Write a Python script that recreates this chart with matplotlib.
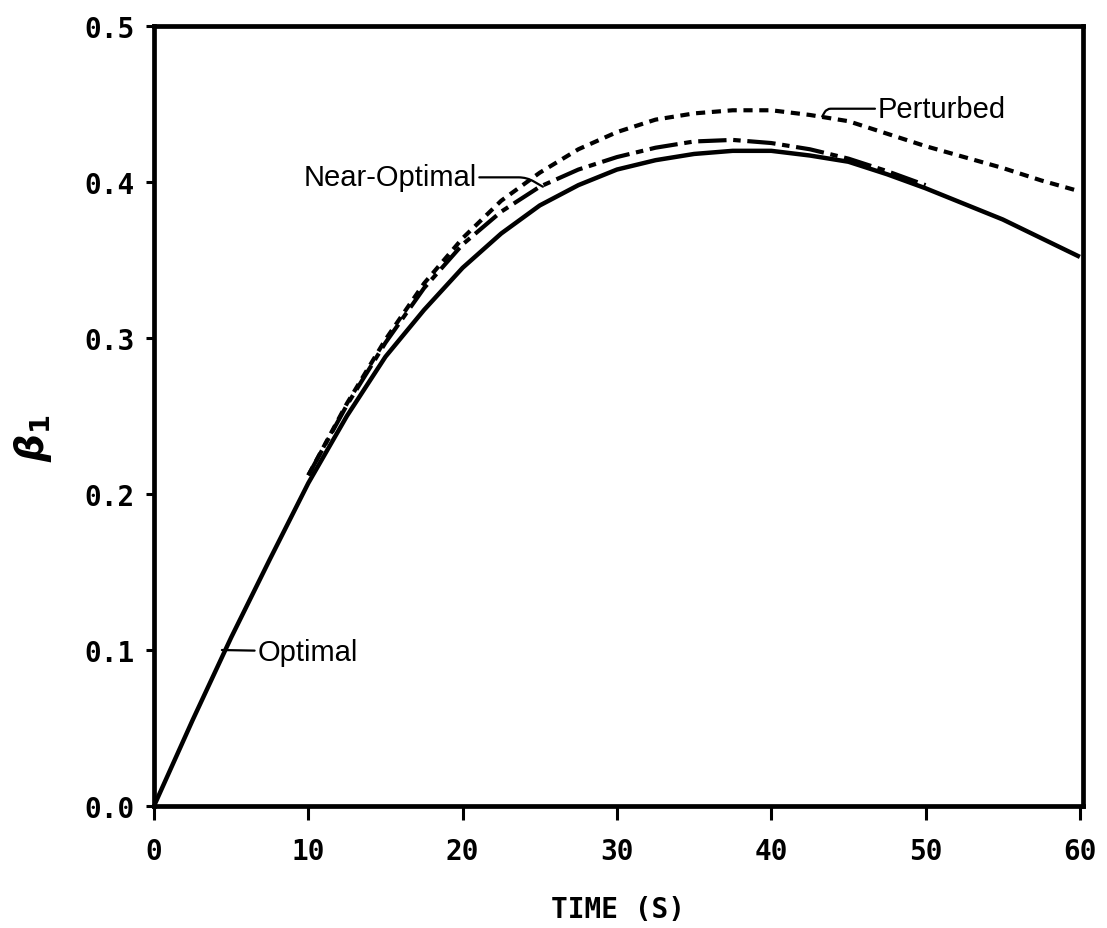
import matplotlib
matplotlib.use("Agg")
from matplotlib import pyplot as plt

plt.rcParams["mathtext.fontset"] = "custom"
plt.rcParams["mathtext.rm"] = "DejaVu Sans:bold"
plt.rcParams["mathtext.it"] = "DejaVu Sans:bold:italic"
plt.rcParams["mathtext.bf"] = "DejaVu Sans:bold"

# time (s) and beta_1
t = [0, 2.5, 5, 7.5, 10, 12.5, 15, 17.5, 20, 22.5, 25, 27.5, 30, 32.5, 35,
     37.5, 40, 42.5, 45, 47.5, 50, 52.5, 55, 57.5, 60]
optimal = [0, 0.055, 0.108, 0.158, 0.207, 0.25, 0.288, 0.318, 0.345, 0.367,
           0.385, 0.398, 0.408, 0.414, 0.418, 0.42, 0.42, 0.417, 0.413,
           0.405, 0.396, 0.386, 0.376, 0.364, 0.352]

t_near = [10, 12.5, 15, 17.5, 20, 22.5, 25, 27.5, 30, 32.5, 35, 37.5, 40,
          42.5, 45, 47.5, 50]
near_optimal = [0.212, 0.257, 0.297, 0.332, 0.36, 0.381, 0.397, 0.408, 0.416,
                0.422, 0.426, 0.427, 0.425, 0.421, 0.415, 0.407, 0.398]

t_pert = [10, 12.5, 15, 17.5, 20, 22.5, 25, 27.5, 30, 32.5, 35, 37.5, 40,
          42.5, 45, 47.5, 50, 52.5, 55, 57.5, 60]
perturbed = [0.212, 0.258, 0.299, 0.335, 0.364, 0.388, 0.406, 0.421, 0.432,
             0.44, 0.444, 0.446, 0.446, 0.443, 0.439, 0.431, 0.423, 0.416,
             0.409, 0.401, 0.394]

xticks = [0, 10, 20, 30, 40, 50, 60]
yticks = [0.0, 0.1, 0.2, 0.3, 0.4, 0.5]

fig = plt.figure(figsize=(11.07, 9.29), dpi=100)
ax = fig.add_axes([0.1391, 0.1313, 0.8392, 0.8396])

ax.plot(t, optimal, color="black", lw=3.2, solid_capstyle="butt",
        solid_joinstyle="round")
ax.plot(t_near, near_optimal, color="black", lw=3.0,
        dashes=(6.8, 1.6, 1.8, 1.6), dash_capstyle="butt")
ax.plot(t_pert, perturbed, color="black", lw=3.0,
        dashes=(2.2, 1.6), dash_capstyle="butt")

ax.set_xlim(0, 60.2)
ax.set_ylim(0, 0.5)

mono = {"family": "DejaVu Sans Mono", "weight": "bold", "size": 20}
ax.set_xticks(xticks)
ax.set_xticklabels([str(v) for v in xticks], fontdict=mono)
ax.set_yticks(yticks)
ax.set_yticklabels(["%.1f" % v for v in yticks], fontdict=mono)
ax.tick_params(axis="x", length=10, width=2.2, pad=12, direction="out")
ax.tick_params(axis="y", length=6, width=2.2, pad=8, direction="out")
for s in ax.spines.values():
    s.set_linewidth(3.4)

ax.set_xlabel("TIME (S)", fontdict=mono, labelpad=22)
ax.set_ylabel(r"$\beta_1$", fontsize=28, rotation=90)
ax.yaxis.set_label_coords(-0.108, 0.473)

lab = {"family": "Liberation Sans", "size": 21}
ax.annotate("Optimal", xy=(4.4, 0.1), xytext=(6.7, 0.099), va="center",
            ha="left", arrowprops=dict(arrowstyle="-", lw=1.6, color="black",
                                       shrinkA=0, shrinkB=0), **lab)
ax.annotate("Near-Optimal", xy=(25.2, 0.397), xytext=(20.9, 0.403),
            va="center", ha="right",
            arrowprops=dict(arrowstyle="-", lw=1.6, color="black",
                            shrinkA=0, shrinkB=0,
                            connectionstyle="angle,angleA=0,angleB=150,rad=8"),
            **lab)
ax.annotate("Perturbed", xy=(43.3, 0.442), xytext=(46.9, 0.447),
            va="center", ha="left",
            arrowprops=dict(arrowstyle="-", lw=1.6, color="black",
                            shrinkA=0, shrinkB=0,
                            connectionstyle="angle,angleA=0,angleB=60,rad=4"),
            **lab)

fig.savefig("out.png", dpi=100)
